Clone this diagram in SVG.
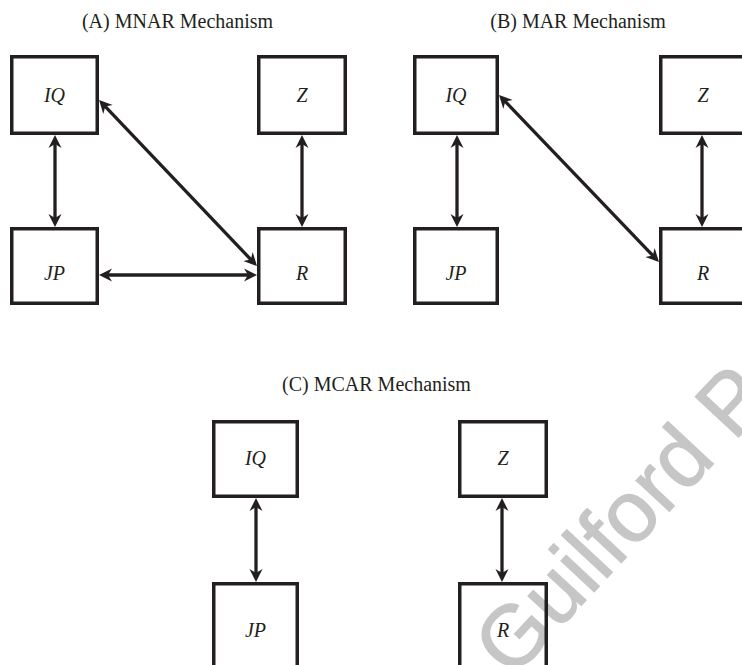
<svg xmlns="http://www.w3.org/2000/svg" width="742" height="665" viewBox="0 0 742 665">
<style>
.box{fill:none;stroke:#231f20;stroke-width:3.5}
.lbl{font-family:"Liberation Serif","Times New Roman",serif;font-style:italic;font-size:20px;fill:#231f20;text-anchor:middle}
.ttl{font-family:"Liberation Serif","Times New Roman",serif;font-size:20px;fill:#231f20;text-anchor:middle}
.edge{stroke:#231f20;stroke-width:3.3;fill:none;marker-start:url(#ah);marker-end:url(#ah)}
.wm{font-family:"Liberation Sans",Arial,sans-serif;font-size:86px;fill:#c6c6c6;stroke:#c6c6c6;stroke-width:1.2;stroke-linejoin:round}
</style>
<defs>
<marker id="ah" viewBox="0 -7 13 14" refX="9" refY="0" markerWidth="13" markerHeight="14" markerUnits="userSpaceOnUse" orient="auto-start-reverse">
<path d="M13,0 L0,-6.5 L4,0 L0,6.5 Z" fill="#231f20"/>
</marker>
</defs>
<rect width="742" height="665" fill="#ffffff"/>
<text class="wm" x="512" y="680" transform="rotate(-47 512 680)">Guilford P</text>

<text class="ttl" x="177.5" y="28">(A) MNAR Mechanism</text>
<text class="ttl" x="578" y="28">(B) MAR Mechanism</text>
<text class="ttl" x="376.5" y="391">(C) MCAR Mechanism</text>

<g id="A-IQ"><rect class="box" x="11.75" y="56.75" width="85.5" height="76.5"/><text class="lbl" x="54.5" y="102">IQ</text></g>
<g id="A-Z"><rect class="box" x="258.75" y="56.75" width="86.5" height="76.5"/><text class="lbl" x="302" y="102">Z</text></g>
<g id="A-JP"><rect class="box" x="11.75" y="228.75" width="85.5" height="74.5"/><text class="lbl" x="54.5" y="280">JP</text></g>
<g id="A-R"><rect class="box" x="258.75" y="228.75" width="86.5" height="74.5"/><text class="lbl" x="302" y="280">R</text></g>

<g id="B-IQ"><rect class="box" x="414.75" y="56.75" width="82.5" height="76.5"/><text class="lbl" x="456" y="102">IQ</text></g>
<g id="B-Z"><rect class="box" x="660.75" y="56.75" width="87" height="76.5"/><text class="lbl" x="703" y="102">Z</text></g>
<g id="B-JP"><rect class="box" x="414.75" y="228.75" width="82.5" height="74.5"/><text class="lbl" x="456" y="280">JP</text></g>
<g id="B-R"><rect class="box" x="660.75" y="228.75" width="87" height="74.5"/><text class="lbl" x="703" y="280">R</text></g>

<g id="C-IQ"><rect class="box" x="213.75" y="421.75" width="83.5" height="74.5"/><text class="lbl" x="255.5" y="465">IQ</text></g>
<g id="C-Z"><rect class="box" x="459.75" y="421.75" width="86.5" height="74.5"/><text class="lbl" x="503" y="465">Z</text></g>
<g id="C-JP"><rect class="box" x="213.75" y="583.75" width="83.5" height="95"/><text class="lbl" x="255.5" y="637">JP</text></g>
<g id="C-R"><rect class="box" x="459.75" y="583.75" width="86.5" height="95"/><text class="lbl" x="503" y="637">R</text></g>

<g id="connectors">
<line class="edge" x1="55" y1="139" x2="55" y2="223"/>
<line class="edge" x1="302" y1="139" x2="302" y2="223"/>
<line class="edge" x1="103" y1="275" x2="253" y2="275"/>
<line class="edge" x1="101.8" y1="102.9" x2="254.2" y2="263.1"/>
<line class="edge" x1="457" y1="139" x2="457" y2="223"/>
<line class="edge" x1="702" y1="139" x2="702" y2="223"/>
<line class="edge" x1="501.8" y1="97.9" x2="656.2" y2="259.1"/>
<line class="edge" x1="256" y1="502" x2="256" y2="578"/>
<line class="edge" x1="502" y1="502" x2="502" y2="578"/>
</g>
</svg>
